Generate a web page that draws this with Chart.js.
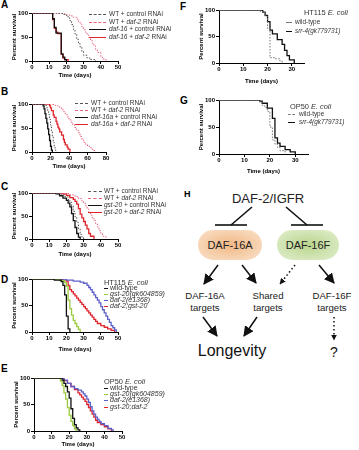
<!DOCTYPE html>
<html>
<head>
<meta charset="utf-8">
<script src="https://cdn.jsdelivr.net/npm/chart.js@4.4.1/dist/chart.umd.min.js"></script>
<style>
body { margin: 0; width: 359px; height: 450px; position: relative; overflow: hidden; background: #fff; font-family: "Liberation Sans", Arial, sans-serif; }
.letter { position: absolute; font-weight: bold; font-size: 10px; line-height: 10px; }
.leg { position: absolute; font-size: 6.5px; line-height: 8px; color: #333; white-space: nowrap; }
.legt { position: absolute; font-size: 7.4px; line-height: 9px; color: #333; white-space: nowrap; }
.mark { position: absolute; height: 0; }
canvas { position: absolute; }
</style>
</head>
<body>
<div class="letter" style="left:1px;top:0px">A</div>
<div class="letter" style="left:1px;top:87px">B</div>
<div class="letter" style="left:1px;top:182px">C</div>
<div class="letter" style="left:1px;top:275px">D</div>
<div class="letter" style="left:1px;top:364px">E</div>
<div class="letter" style="left:180px;top:2px">F</div>
<div class="letter" style="left:180px;top:96px">G</div>

<svg style="position:absolute;left:0;top:0" width="359" height="450">
  <defs>
    <marker id="ah" viewBox="0 0 10 10" refX="9" refY="5" markerWidth="7" markerHeight="7" orient="auto">
      <path d="M0,0 L10,5 L0,10 z" fill="#111"/>
    </marker>
    <marker id="ahs" viewBox="0 0 10 10" refX="9" refY="5" markerWidth="4" markerHeight="4" orient="auto">
      <path d="M0,0 L10,5 L0,10 z" fill="#111"/>
    </marker>
    <radialGradient id="gA" cx="50%" cy="50%" r="60%">
      <stop offset="0%" stop-color="#f1b784"/>
      <stop offset="100%" stop-color="#f8dcc1"/>
    </radialGradient>
    <radialGradient id="gF" cx="50%" cy="50%" r="60%">
      <stop offset="0%" stop-color="#b9d48c"/>
      <stop offset="100%" stop-color="#dcebc6"/>
    </radialGradient>
  </defs>
  <text x="184" y="197" font-size="9" font-weight="bold" font-family="Liberation Sans">H</text>
  <text x="268" y="203" font-size="13" text-anchor="middle" font-family="Liberation Sans" fill="#222">DAF-2/IGFR</text>
  <g stroke="#111" stroke-width="1.6" fill="none">
    <line x1="252" y1="207" x2="231" y2="225"/>
    <line x1="215" y1="225" x2="247" y2="225"/>
    <line x1="286" y1="207" x2="307" y2="225"/>
    <line x1="291" y1="225" x2="323" y2="225"/>
  </g>
  <rect x="198" y="230" width="64" height="30" rx="15" fill="url(#gA)"/>
  <rect x="277" y="230" width="62" height="30" rx="15" fill="url(#gF)"/>
  <text x="230" y="249" font-size="11" text-anchor="middle" font-family="Liberation Sans" fill="#222">DAF-16A</text>
  <text x="308" y="249" font-size="11" text-anchor="middle" font-family="Liberation Sans" fill="#222">DAF-16F</text>
  <g stroke="#111" stroke-width="1.5" fill="none">
    <line x1="218" y1="265" x2="204" y2="284" marker-end="url(#ah)"/>
    <line x1="242" y1="265" x2="256" y2="283" marker-end="url(#ah)"/>
    <line x1="295" y1="265" x2="280" y2="284" stroke-dasharray="1.5,2.5" marker-end="url(#ahs)"/>
    <line x1="319" y1="265" x2="334" y2="283" marker-end="url(#ah)"/>
    <line x1="203" y1="317" x2="217" y2="336" marker-end="url(#ah)"/>
    <line x1="257" y1="317" x2="244" y2="336" marker-end="url(#ah)"/>
    <line x1="334" y1="317" x2="334" y2="340" stroke-dasharray="1.5,2.5" marker-end="url(#ahs)"/>
  </g>
  <g font-size="9.6" text-anchor="middle" font-family="Liberation Sans" fill="#222">
    <text x="205" y="299">DAF-16A</text>
    <text x="205" y="311">targets</text>
    <text x="268" y="299">Shared</text>
    <text x="268" y="311">targets</text>
    <text x="332" y="299">DAF-16F</text>
    <text x="332" y="311">targets</text>
  </g>
  <text x="232" y="356" font-size="16" text-anchor="middle" font-family="Liberation Sans" fill="#111">Longevity</text>
  <text x="334" y="357" font-size="14" text-anchor="middle" font-family="Liberation Sans" fill="#111">?</text>
</svg>

<script>
// survival curves: time (days) and percent surviving at each step
// A
const aWtCtrlT = [0, 15, 18, 20, 21, 22, 23, 24, 25, 26, 27, 28, 29, 30, 32, 34, 37];
const aWtCtrlS = [100, 99, 97, 94, 90, 84, 76, 66, 56, 45, 36, 28, 20, 12, 6, 3, 0];
const aWtDaf2T = [0, 14, 18, 20, 22, 24, 26, 27, 28, 29, 30, 31, 32, 33, 34, 35, 36, 37, 38, 40, 41, 43];
const aWtDaf2S = [100, 99, 98, 96, 94, 91, 87, 82, 77, 71, 65, 60, 54, 49, 43, 37, 31, 24, 18, 8, 4, 0];
const aD16CtrlT = [0, 12, 13, 14, 17, 18, 19, 20];
const aD16CtrlS = [100, 88, 70, 58, 15, 8, 3, 0];
const aD16Daf2T = [0, 12, 13, 14, 15, 17, 18, 19, 21];
const aD16Daf2S = [100, 86, 68, 60, 57, 14, 6, 3, 0];
// B
const bWtCtrlT = [0, 14, 16, 17, 18, 19, 20, 21, 22, 23, 24, 25, 26];
const bWtCtrlS = [100, 97, 92, 86, 78, 68, 56, 44, 32, 20, 10, 4, 0];
const bWtDaf2T = [0, 22, 25, 28, 30, 32, 34, 36, 38, 40, 42, 44, 46, 48, 50, 52, 54, 56, 58, 60, 62, 64, 66, 68];
const bWtDaf2S = [100, 99, 97, 95, 92, 88, 84, 78, 73, 68, 62, 57, 51, 46, 40, 32, 25, 20, 16, 12, 9, 6, 3, 0];
const bD16aCtrlT = [0, 12, 13, 14, 15, 16, 17, 18, 19, 20, 21, 22];
const bD16aCtrlS = [100, 96, 90, 80, 70, 60, 48, 36, 24, 12, 4, 0];
const bD16aDaf2T = [0, 19, 20, 21, 23, 24, 26, 27, 28, 29, 30, 32, 34, 35, 36, 38, 39, 41];
const bD16aDaf2S = [100, 96, 92, 86, 77, 72, 64, 58, 52, 48, 42, 35, 26, 20, 15, 10, 6, 0];
// C
const cWtCtrlT = [0, 14, 17, 19, 21, 22, 23, 24, 25, 26, 27, 28, 29, 30];
const cWtCtrlS = [100, 99, 96, 92, 86, 80, 72, 60, 48, 36, 22, 10, 4, 0];
const cWtDaf2T = [0, 18, 22, 25, 27, 29, 30, 31, 32, 33, 34, 35, 36, 37, 38, 39, 40, 41, 43];
const cWtDaf2S = [100, 99, 96, 92, 88, 82, 78, 72, 65, 58, 52, 46, 40, 33, 26, 18, 12, 6, 0];
const cGstCtrlT = [0, 14, 16, 18, 20, 21, 22, 23, 24, 25, 26, 27, 28];
const cGstCtrlS = [100, 98, 94, 89, 84, 78, 70, 55, 40, 25, 12, 4, 0];
const cGstDaf2T = [0, 18, 20, 22, 24, 25, 26, 27, 28, 29, 30, 31, 32, 33, 34, 36];
const cGstDaf2S = [100, 98, 95, 90, 86, 82, 76, 66, 54, 46, 38, 30, 22, 12, 6, 0];
// D (HT115)
const dWtT = [0, 13, 17, 18, 19, 20, 21, 22];
const dWtS = [100, 98, 95, 88, 70, 30, 6, 0];
const dGstT = [0, 16, 19, 20, 21, 22, 23, 24, 25, 26, 27, 28];
const dGstS = [100, 97, 93, 86, 60, 44, 32, 22, 16, 10, 5, 0];
const dDaf2T = [0, 20, 24, 28, 30, 32, 33, 34, 35, 36, 37, 38, 39, 40, 41, 42, 43, 44, 45, 46, 47, 48, 49];
const dDaf2S = [100, 98, 96, 94, 92, 88, 84, 80, 75, 70, 65, 60, 55, 48, 42, 36, 30, 24, 18, 12, 8, 4, 0];
const dDblT = [0, 18, 20, 21, 22, 23, 24, 25, 26, 27, 28, 29, 30, 31, 32, 33, 34, 35, 36, 37, 38, 40, 42, 44, 46, 48];
const dDblS = [100, 98, 96, 88, 80, 76, 72, 68, 64, 60, 56, 52, 48, 44, 40, 36, 32, 28, 24, 20, 16, 12, 9, 6, 3, 0];
// E (OP50)
const eWtT = [0, 16, 17, 18, 19, 20, 21, 22, 23, 24, 25, 26];
const eWtS = [100, 96, 90, 84, 74, 62, 42, 24, 12, 6, 2, 0];
const eGstT = [0, 15, 16, 17, 18, 19, 20, 21, 22, 23, 24];
const eGstS = [100, 94, 86, 72, 60, 44, 30, 18, 10, 4, 0];
const eDaf2T = [0, 17, 19, 21, 23, 25, 27, 28, 29, 30, 31, 32, 33, 34, 35, 36, 37, 38, 40, 42, 44, 45];
const eDaf2S = [100, 96, 90, 84, 80, 77, 74, 70, 66, 60, 54, 46, 38, 32, 26, 22, 18, 14, 10, 5, 2, 0];
const eDblT = [0, 17, 19, 21, 23, 25, 26, 27, 28, 29, 30, 31, 32, 33, 34, 35, 36, 38, 40, 42, 44];
const eDblS = [100, 95, 90, 84, 78, 72, 68, 64, 60, 56, 50, 44, 38, 32, 26, 20, 16, 12, 8, 4, 0];
// F (HT115) and G (OP50)
const fWtT = [0, 17, 18, 19, 20, 21, 23, 25, 26];
const fWtS = [100, 97, 95, 88, 65, 10, 8, 4, 0];
const fSrrT = [0, 18, 19, 20, 21, 22, 24, 26, 27, 28, 29, 31];
const fSrrS = [100, 96, 90, 78, 62, 55, 44, 35, 24, 14, 6, 0];
const gWtT = [0, 16, 17, 18, 19, 20, 21, 22, 23, 24, 26];
const gWtS = [100, 96, 90, 86, 79, 50, 26, 18, 12, 6, 0];
const gSrrT = [0, 16, 17, 19, 21, 22, 23, 24, 26, 28, 30];
const gSrrS = [100, 98, 94, 85, 66, 30, 20, 14, 8, 4, 0];

const yTicks = [0, 50, 100];

const GRAY = '#555', PINK = '#e8627c', BLACK = '#111', RED = '#e0242c';
const GREEN = '#9acb3c', BLUE = '#5d5fc9';

const tickFont = { family: 'Liberation Sans', size: 6, weight: 'bold' };

function pts(t, s) {
    return t.map((x, i) => ({ x: x, y: s[i] }));
}

function panel(p) {
    const YW = 21, PT = 5, PR = 7;
    const W = YW + p.w + PR, H = PT + p.h + p.xh;
    const c = document.createElement('canvas');
    c.width = W;
    c.height = H;
    c.style.left = (p.x - YW) + 'px';
    c.style.top = (p.y - PT) + 'px';
    c.style.width = W + 'px';
    c.style.height = H + 'px';
    document.body.appendChild(c);

    new Chart(c, {
        type: 'line',
        data: {
            datasets: p.series.map(s => ({
                label: s.label.replace(/<[^>]+>/g, ''),
                data: pts(s.t, s.s),
                borderColor: s.color,
                borderWidth: s.dash ? 1 : 1.3,
                borderDash: s.dash ? [1.5, 1.5] : [],
                stepped: true,
                pointRadius: 0,
                fill: false
            }))
        },
        options: {
            responsive: false,
            animation: false,
            devicePixelRatio: 1,
            layout: { padding: { top: PT, right: PR, left: 0, bottom: 0 } },
            plugins: { legend: { display: false }, tooltip: { enabled: false } },
            scales: {
                x: {
                    type: 'linear',
                    min: 0,
                    max: p.xmax,
                    ticks: { stepSize: p.step, font: tickFont, color: '#000', padding: 0, maxRotation: 0, autoSkip: false },
                    afterBuildTicks: s => { s.ticks = s.ticks.filter(t => t.value % p.step === 0); },
                    grid: { drawOnChartArea: false, tickLength: 3, color: '#000' },
                    border: { color: '#000', width: 1 },
                    title: { display: true, text: 'Time (days)', font: tickFont, color: '#000', padding: 0 },
                    afterFit: s => { s.height = p.xh; }
                },
                y: {
                    min: 0,
                    max: 100,
                    afterBuildTicks: s => { s.ticks = yTicks.map(v => ({ value: v })); },
                    ticks: { font: tickFont, color: '#000', padding: 1 },
                    grid: { drawOnChartArea: false, tickLength: 3, color: '#000' },
                    border: { color: '#000', width: 1 },
                    title: { display: true, text: 'Percent survival', font: tickFont, color: '#000', padding: 0 },
                    afterFit: s => { s.width = YW; }
                }
            }
        }
    });

    const lg = p.legend;
    if (lg.title) {
        const d = document.createElement('div');
        d.className = 'legt';
        d.style.left = lg.tx + 'px';
        d.style.top = (lg.ty - 4.5) + 'px';
        d.innerHTML = lg.title;
        document.body.appendChild(d);
    }
    p.series.forEach((s, i) => {
        const y = lg.y + i * lg.dy;
        const m = document.createElement('div');
        m.className = 'mark';
        m.style.left = lg.x + 'px';
        m.style.top = Math.round(y) + 'px';
        m.style.width = lg.mw + 'px';
        m.style.borderTop = (s.dash ? '1px dashed ' : '1.3px solid ') + s.color;
        document.body.appendChild(m);
        const d = document.createElement('div');
        d.className = 'leg';
        d.style.left = (lg.x + lg.mw + lg.gap) + 'px';
        d.style.top = (y - 4) + 'px';
        if (lg.fs) d.style.fontSize = lg.fs + 'px';
        d.innerHTML = s.label;
        document.body.appendChild(d);
    });
}

panel({
    x: 32, y: 13, w: 86, h: 48, xh: 18, xmax: 50, step: 10,
    series: [
        { label: 'WT + control RNAi', t: aWtCtrlT, s: aWtCtrlS, color: GRAY, dash: true },
        { label: 'WT + <i>daf-2</i> RNAi', t: aWtDaf2T, s: aWtDaf2S, color: PINK, dash: true },
        { label: '<i>daf-16</i> + control RNAi', t: aD16CtrlT, s: aD16CtrlS, color: BLACK },
        { label: '<i>daf-16</i> + <i>daf-2</i> RNAi', t: aD16Daf2T, s: aD16Daf2S, color: RED }
    ],
    legend: { x: 89, y: 14, dy: 7.6, mw: 17, gap: 3 }
});

panel({
    x: 32, y: 104, w: 74, h: 48, xh: 18, xmax: 80, step: 20,
    series: [
        { label: 'WT + control RNAi', t: bWtCtrlT, s: bWtCtrlS, color: GRAY, dash: true },
        { label: 'WT + <i>daf-2</i> RNAi', t: bWtDaf2T, s: bWtDaf2S, color: PINK, dash: true },
        { label: '<i>daf-16a</i> + control RNAi', t: bD16aCtrlT, s: bD16aCtrlS, color: BLACK },
        { label: '<i>daf-16a</i> + <i>daf-2</i> RNAi', t: bD16aDaf2T, s: bD16aDaf2S, color: RED }
    ],
    legend: { x: 75, y: 103, dy: 7, mw: 13, gap: 3 }
});

panel({
    x: 32, y: 193, w: 86, h: 46, xh: 19, xmax: 50, step: 10,
    series: [
        { label: 'WT + control RNAi', t: cWtCtrlT, s: cWtCtrlS, color: GRAY, dash: true },
        { label: 'WT + <i>daf-2</i> RNAi', t: cWtDaf2T, s: cWtDaf2S, color: PINK, dash: true },
        { label: '<i>gst-20</i> + control RNAi', t: cGstCtrlT, s: cGstCtrlS, color: BLACK },
        { label: '<i>gst-20</i> + <i>daf-2</i> RNAi', t: cGstDaf2T, s: cGstDaf2S, color: RED }
    ],
    legend: { x: 88, y: 191, dy: 7, mw: 14, gap: 2 }
});

panel({
    x: 32, y: 279, w: 86, h: 53, xh: 21, xmax: 50, step: 10,
    series: [
        { label: 'wild-type', t: dWtT, s: dWtS, color: BLACK },
        { label: '<i>gst-20(gk604859)</i>', t: dGstT, s: dGstS, color: GREEN },
        { label: '<i>daf-2(e1368)</i>', t: dDaf2T, s: dDaf2S, color: BLUE },
        { label: '<i>daf-2;gst-20</i>', t: dDblT, s: dDblS, color: RED }
    ],
    legend: { title: 'HT115 <i>E. coli</i>', tx: 104, ty: 282, x: 104, y: 288, dy: 5.9, mw: 4, gap: 2, fs: 7 }
});

panel({
    x: 34, y: 378, w: 88, h: 53, xh: 17, xmax: 50, step: 10,
    series: [
        { label: 'wild-type', t: eWtT, s: eWtS, color: BLACK },
        { label: '<i>gst-20(gk604859)</i>', t: eGstT, s: eGstS, color: GREEN },
        { label: '<i>daf-2(e1368)</i>', t: eDaf2T, s: eDaf2S, color: BLUE },
        { label: '<i>gst-20;daf-2</i>', t: eDblT, s: eDblS, color: RED }
    ],
    legend: { title: 'OP50 <i>E. coli</i>', tx: 104, ty: 381, x: 104, y: 388, dy: 6.2, mw: 4, gap: 2, fs: 7 }
});

panel({
    x: 219, y: 10, w: 85, h: 53, xh: 22, xmax: 35, step: 10,
    series: [
        { label: 'wild-type', t: fWtT, s: fWtS, color: '#777', dash: true },
        { label: '<i>srr-4(gk779731)</i>', t: fSrrT, s: fSrrS, color: BLACK }
    ],
    legend: { title: 'HT115 <i>E. coli</i>', tx: 304, ty: 12, x: 286, y: 22, dy: 9, mw: 6, gap: 3, fs: 6.4 }
});

panel({
    x: 219, y: 100, w: 89, h: 54, xh: 21, xmax: 35, step: 10,
    series: [
        { label: 'wild-type', t: gWtT, s: gWtS, color: '#777', dash: true },
        { label: '<i>srr-4(gk779731)</i>', t: gSrrT, s: gSrrS, color: BLACK }
    ],
    legend: { title: 'OP50 <i>E. coli</i>', tx: 290, ty: 106, x: 288, y: 114, dy: 8, mw: 7, gap: 4, fs: 6.4 }
});
</script>
</body>
</html>
